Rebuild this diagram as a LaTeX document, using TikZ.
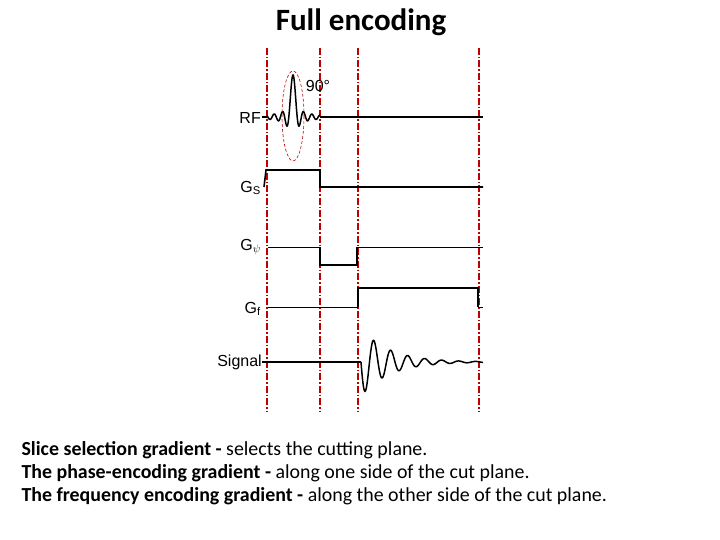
\documentclass[tikz,border=0pt]{standalone}
\usepackage{fontspec}
\setmainfont{Carlito}
\newfontfamily\arialf{Liberation Sans}
\begin{document}
\begin{tikzpicture}[x=1pt,y=-1pt,
  guide/.style={draw=red!75!black,line width=1.3pt,dash pattern=on 7pt off 2pt on 1.5pt off 2pt},
  trace/.style={line width=1.6pt},
  thin trace/.style={line width=0.7pt},
  lab/.style={font=\arialf\fontsize{16}{16}\selectfont,anchor=east,inner sep=1pt}]
\useasboundingbox (0,0) rectangle (720,540);
\node[font=\bfseries\fontsize{31}{36}\selectfont] (title) at (361,22) {Full encoding};
\foreach \x/\n in {267/a,320/b,358/c,479/d}{
  \coordinate (\n1) at (\x,48); \coordinate (\n2) at (\x,412);
  \draw[guide] (\n1) -- (\n2);}
% RF
\node[lab] (rf) at (262,118) {RF};
\coordinate (rfe) at (483,117);
\draw[trace] (262,117) -- (267,117);
\draw[line width=1.5pt] plot[domain=-26:27,samples=300,smooth] ({293+\x},{117-42*sin(deg(0.75*(\x+0.001)))/(0.75*(\x+0.001))});
\draw[trace] (320,117) -- (rfe);
\draw[red!70!black,densely dashed,line width=0.6pt] (293,116) ellipse [x radius=11,y radius=45];
\node[font=\arialf\fontsize{16}{16}\selectfont] (deg) at (318,86) {90°};
% Gs
\node[lab] (gs) at (262,188) {G\textsubscript{S}};
\coordinate (gse) at (483,187);
\draw[trace] (264,187) -- (266,170) -- (320,170) -- (320,187) -- (gse);
% Gphi
\node[lab] (gp) at (262,247) {G\textsubscript{$\psi$}};
\coordinate (gpe) at (483,247);
\draw[thin trace] (268,247) -- (320,247);
\draw[trace] (320,247) -- (320,265) -- (357,265) -- (357,247);
\draw[thin trace] (357,247) -- (gpe);
% Gf
\node[lab] (gf) at (262,309) {G\textsubscript{f}};
\coordinate (gfe) at (483,307);
\draw[thin trace] (268,307) -- (358,307);
\draw[trace] (358,307) -- (358,288) -- (478,288) -- (478,307);
\draw[thin trace] (478,307) -- (gfe);
% Signal
\node[lab] (sg) at (263,362) {Signal};
\coordinate (sge) at (483,362);
\draw[trace] (262,362) -- (361,362);
\draw[line width=1.5pt] plot[domain=361:483,samples=300,smooth] (\x,{362+34*exp(-(\x-361)/28)*sin(deg(2*pi*(\x-361)/17))});
% text
\node[anchor=west,align=left,font=\fontsize{19.9}{23}\selectfont] (txt) at (18,473) {\textbf{Slice selection gradient -} selects the cutting plane.\\
\textbf{The phase-encoding gradient -} along one side of the cut plane.\\
\textbf{The frequency encoding gradient -} along the other side of the cut plane.};
\end{tikzpicture}
\end{document}
